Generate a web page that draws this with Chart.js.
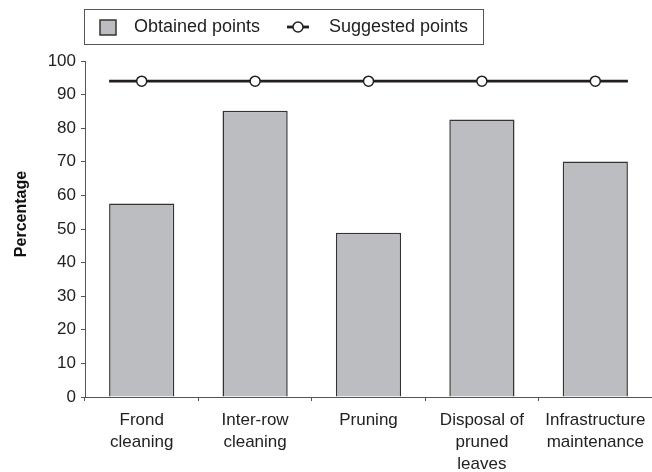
<!DOCTYPE html>
<html>
<head>
<meta charset="utf-8">
<script src="https://cdn.jsdelivr.net/npm/chart.js@4"></script>
<style>
  html, body { margin: 0; padding: 0; background: #fff; }
</style>
</head>
<body>
<canvas id="chartPoints" width="652" height="472"></canvas>
<script>
// data
const categories = [
  ['Frond', 'cleaning'],
  ['Inter-row', 'cleaning'],
  'Pruning',
  ['Disposal of', 'pruned', 'leaves'],
  ['Infrastructure', 'maintenance']
];
const obtainedPoints = [57.6, 85.2, 48.9, 82.6, 70.1];
const suggestedPoints = [94, 94, 94, 94, 94];
const yMin = 0;
const yMax = 100;
const yStep = 10;
const yTitle = 'Percentage';

const FONT = "'Liberation Sans', Arial, sans-serif";
const INK = '#231f20';

// the suggested line runs from the left edge of the first bar to the right edge of the last
const lineEnds = {
  id: 'lineEnds',
  beforeDatasetsDraw(chart) {
    const bars = chart.getDatasetMeta(0).data;
    const pts = chart.getDatasetMeta(1).data;
    const n = pts.length - 1;
    const ctx = chart.ctx;
    ctx.save();
    ctx.strokeStyle = INK;
    ctx.lineWidth = 2.8;
    ctx.beginPath();
    ctx.moveTo(bars[0].x - bars[0].width / 2, pts[0].y);
    ctx.lineTo(pts[0].x, pts[0].y);
    ctx.moveTo(pts[n].x, pts[n].y);
    ctx.lineTo(bars[n].x + bars[n].width / 2, pts[n].y);
    ctx.stroke();
    ctx.restore();
  }
};

// legend in a framed box above the plot, plus the y title (sits a bit above centre in the original)
const boxedLegend = {
  id: 'boxedLegend',
  afterDraw(chart) {
    const ctx = chart.ctx;
    const ds = chart.data.datasets;
    const left = Math.round(chart.chartArea.left) - 0.5;
    const top = 9.5;
    const mid = 27;
    ctx.save();
    ctx.strokeStyle = '#555';
    ctx.lineWidth = 1;
    ctx.strokeRect(left, top, 483.5 - left, 35);

    // bar swatch
    ctx.fillStyle = ds[0].backgroundColor;
    ctx.fillRect(100, 20, 16, 15);
    ctx.strokeStyle = ds[0].borderColor;
    ctx.lineWidth = 1.5;
    ctx.strokeRect(100, 20, 16, 15);

    // line swatch
    ctx.strokeStyle = INK;
    ctx.lineWidth = 2.8;
    ctx.beginPath();
    ctx.moveTo(287, mid);
    ctx.lineTo(309, mid);
    ctx.stroke();
    ctx.beginPath();
    ctx.arc(298, mid, 5, 0, Math.PI * 2);
    ctx.fillStyle = '#fff';
    ctx.fill();
    ctx.lineWidth = 1.5;
    ctx.stroke();

    ctx.fillStyle = '#222';
    ctx.font = '18px ' + FONT;
    ctx.textBaseline = 'middle';
    ctx.fillText(ds[0].label, 134, mid);
    ctx.fillText(ds[1].label, 329, mid);

    // y title
    ctx.translate(22, 214);
    ctx.rotate(-Math.PI / 2);
    ctx.textAlign = 'center';
    ctx.fillStyle = '#111';
    ctx.font = 'bold 16px ' + FONT;
    ctx.fillText(yTitle, 0, 0);
    ctx.restore();
  }
};

new Chart(document.getElementById('chartPoints'), {
  data: {
    labels: categories,
    datasets: [{
      type: 'bar',
      label: 'Obtained points',
      data: obtainedPoints,
      backgroundColor: '#bcbdc1',
      borderColor: '#333',
      borderWidth: 1.5,
      categoryPercentage: 1,
      barPercentage: 0.575,
      order: 2
    }, {
      type: 'line',
      label: 'Suggested points',
      data: suggestedPoints,
      borderColor: INK,
      borderWidth: 2.8,
      pointRadius: 5,
      pointBackgroundColor: '#fff',
      pointBorderColor: INK,
      pointBorderWidth: 1.5,
      order: 1
    }]
  },
  options: {
    responsive: false,
    animation: false,
    layout: { autoPadding: false, padding: { top: 61, right: 0, left: 0, bottom: 0 } },
    plugins: {
      legend: { display: false },
      tooltip: { enabled: false }
    },
    scales: {
      x: {
        offset: true,
        grid: { offset: true, drawOnChartArea: false, tickLength: 4, color: '#555' },
        border: { color: '#555', width: 1 },
        ticks: {
          color: '#222',
          padding: 9,
          maxRotation: 0,
          autoSkip: false,
          font: { family: FONT, size: 17, lineHeight: 1.27 }
        },
        afterFit(scale) {
          scale.height = 75;
          scale.paddingRight = 0;
        }
      },
      y: {
        min: yMin,
        max: yMax,
        ticks: {
          stepSize: yStep,
          color: '#222',
          padding: 5,
          font: { family: FONT, size: 17 }
        },
        grid: { drawOnChartArea: false, tickLength: 4, color: '#555' },
        border: { color: '#555', width: 1 },
        afterFit(scale) { scale.width = 85; }
      }
    }
  },
  plugins: [lineEnds, boxedLegend]
});
</script>
</body>
</html>
